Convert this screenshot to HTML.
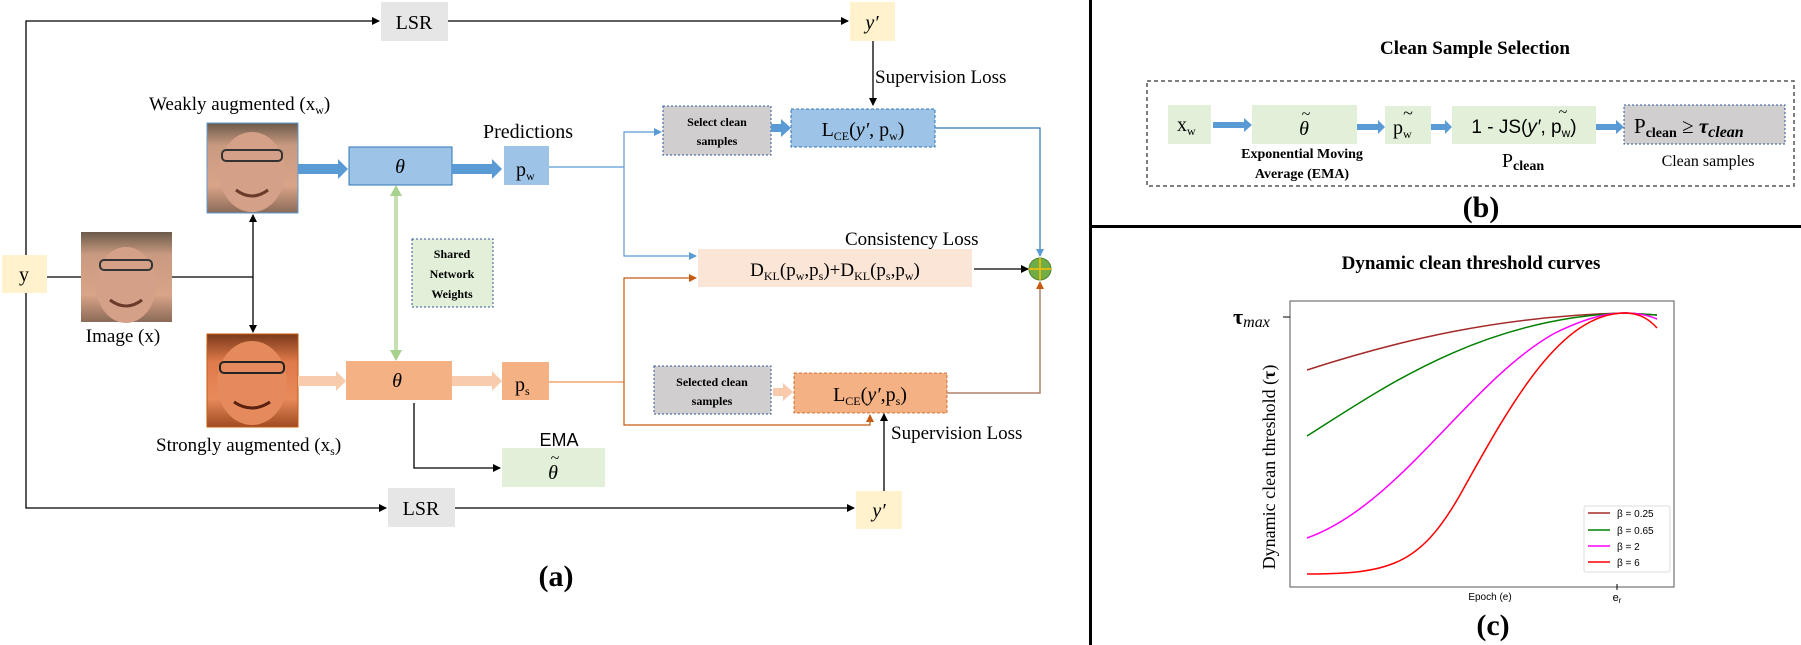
<!DOCTYPE html>
<html><head><meta charset="utf-8"><style>
html,body{margin:0;padding:0;background:#fff}
svg{display:block}
text{font-family:"Liberation Serif",serif;fill:#000}
.s{font-family:"Liberation Sans",sans-serif}
</style></head><body>
<svg width="1801" height="645" viewBox="0 0 1801 645" xmlns="http://www.w3.org/2000/svg">
<defs>
<marker id="ak" markerWidth="8" markerHeight="8" refX="7" refY="4" orient="auto" markerUnits="userSpaceOnUse"><path d="M0,0 L8,4 L0,8 z" fill="#000"/></marker>
<marker id="ab" markerWidth="8" markerHeight="8" refX="7" refY="4" orient="auto" markerUnits="userSpaceOnUse"><path d="M0,0 L8,4 L0,8 z" fill="#5b9bd5"/></marker>
<marker id="ao" markerWidth="8" markerHeight="8" refX="7" refY="4" orient="auto" markerUnits="userSpaceOnUse"><path d="M0,0 L8,4 L0,8 z" fill="#c55a11"/></marker>
<linearGradient id="skin" x1="0" y1="0" x2="0" y2="1"><stop offset="0" stop-color="#6b5a4a"/><stop offset="0.25" stop-color="#c99a80"/><stop offset="0.7" stop-color="#d9a488"/><stop offset="1" stop-color="#8a6a58"/></linearGradient>
<linearGradient id="skin2" x1="0" y1="0" x2="0" y2="1"><stop offset="0" stop-color="#7a3a1a"/><stop offset="0.3" stop-color="#e07a4a"/><stop offset="0.7" stop-color="#e88a5a"/><stop offset="1" stop-color="#a04a22"/></linearGradient>
</defs>

<rect x="1089" y="0" width="3" height="645" fill="#000"/>
<rect x="1089" y="225" width="712" height="3" fill="#000"/>

<!-- ===== (a) ===== -->
<polyline points="26,255 26,21 379,21" fill="none" stroke="#000" stroke-width="1.3" marker-end="url(#ak)"/>
<rect x="381" y="2" width="67" height="39" fill="#e7e6e6"/>
<text x="414" y="29" font-size="20" text-anchor="middle">LSR</text>
<line x1="448" y1="21" x2="848" y2="21" stroke="#000" stroke-width="1.3" marker-end="url(#ak)"/>
<rect x="850" y="2" width="45" height="39" fill="#fff2cc"/>
<text x="872" y="29" font-size="20" font-style="italic" text-anchor="middle">y′</text>
<line x1="873" y1="41" x2="873" y2="105" stroke="#000" stroke-width="1.3" marker-end="url(#ak)"/>
<text x="875" y="83" font-size="19">Supervision Loss</text>

<polyline points="26,293 26,508 386,508" fill="none" stroke="#000" stroke-width="1.3" marker-end="url(#ak)"/>
<rect x="388" y="488" width="67" height="39" fill="#e7e6e6"/>
<text x="421" y="515" font-size="20" text-anchor="middle">LSR</text>
<line x1="455" y1="508" x2="854" y2="508" stroke="#000" stroke-width="1.3" marker-end="url(#ak)"/>
<rect x="856" y="491" width="46" height="38" fill="#fff2cc"/>
<text x="879" y="517" font-size="20" font-style="italic" text-anchor="middle">y′</text>
<line x1="884" y1="491" x2="884" y2="414" stroke="#000" stroke-width="1.3" marker-end="url(#ak)"/>
<text x="891" y="439" font-size="19">Supervision Loss</text>

<rect x="2" y="255" width="45" height="38" fill="#fff2cc"/>
<text x="24" y="281" font-size="20" text-anchor="middle">y</text>
<line x1="47" y1="277" x2="81" y2="277" stroke="#000" stroke-width="1.3"/>
<rect x="81" y="232" width="91" height="90" fill="url(#skin)"/>
<ellipse cx="126" cy="285" rx="30" ry="38" fill="#d4a088"/>
<rect x="100" y="260" width="52" height="10" rx="4" fill="none" stroke="#333" stroke-width="2"/>
<path d="M110,300 Q126,312 142,300" stroke="#6a3a2a" stroke-width="3" fill="none"/>
<text x="123" y="342" font-size="19" text-anchor="middle">Image (x)</text>
<line x1="172" y1="277" x2="253" y2="277" stroke="#000" stroke-width="1.3"/>
<line x1="253" y1="277" x2="253" y2="215" stroke="#000" stroke-width="1.3" marker-end="url(#ak)"/>
<line x1="253" y1="277" x2="253" y2="332" stroke="#000" stroke-width="1.3" marker-end="url(#ak)"/>

<text x="149" y="110" font-size="19">Weakly augmented (x<tspan font-size="12" dy="4">w</tspan><tspan dy="-4">)</tspan></text>
<rect x="207" y="123" width="91" height="90" fill="url(#skin)" stroke="#5b9bd5" stroke-width="1"/>
<ellipse cx="252" cy="172" rx="33" ry="40" fill="#d4a088"/>
<rect x="222" y="150" width="60" height="11" rx="4" fill="none" stroke="#333" stroke-width="2"/>
<path d="M236,190 Q252,202 268,190" stroke="#6a3a2a" stroke-width="3" fill="none"/>
<path d="M298,164 L338,164 L338,159 L348,169 L338,179 L338,174 L298,174 z" fill="#5b9bd5"/>
<rect x="349" y="147" width="103" height="38" fill="#9dc3e6" stroke="#2e75b6" stroke-width="1"/>
<text x="400" y="173" font-size="20" font-style="italic" text-anchor="middle">θ</text>
<path d="M452,164 L492,164 L492,159 L502,169 L492,179 L492,174 L452,174 z" fill="#5b9bd5"/>
<rect x="504" y="146" width="45" height="39" fill="#9dc3e6"/>
<text x="516" y="176" font-size="20">p<tspan font-size="12" dy="4">w</tspan></text>
<text x="483" y="138" font-size="20">Predictions</text>
<polyline points="549,167 624,167 624,132 661,132" fill="none" stroke="#5b9bd5" stroke-width="1.2" marker-end="url(#ab)"/>
<polyline points="624,167 624,256 696,256" fill="none" stroke="#5b9bd5" stroke-width="1.2" marker-end="url(#ab)"/>
<rect x="663" y="106" width="108" height="49" fill="#d0cece" stroke="#2f5597" stroke-width="1" stroke-dasharray="2,2"/>
<text x="717" y="126" font-size="12" font-weight="bold" text-anchor="middle">Select clean</text>
<text x="717" y="145" font-size="12" font-weight="bold" text-anchor="middle">samples</text>
<path d="M771,124 L781,124 L781,119 L791,128 L781,137 L781,132 L771,132 z" fill="#5b9bd5"/>
<rect x="791" y="109" width="144" height="38" fill="#9dc3e6" stroke="#2e75b6" stroke-width="1" stroke-dasharray="3,2"/>
<text x="863" y="136" font-size="20" text-anchor="middle">L<tspan font-size="12" dy="4">CE</tspan><tspan dy="-4">(</tspan><tspan font-style="italic">y′</tspan>, p<tspan font-size="12" dy="4">w</tspan><tspan dy="-4">)</tspan></text>
<polyline points="935,128 1040,128 1040,256" fill="none" stroke="#2e75b6" stroke-width="1.2" marker-end="url(#ab)"/>

<line x1="396" y1="188" x2="396" y2="358" stroke="#c5e0b4" stroke-width="4"/>
<path d="M396,185 L390,196 L402,196 z" fill="#a9d18e"/>
<path d="M396,361 L390,350 L402,350 z" fill="#a9d18e"/>
<rect x="412" y="239" width="81" height="68" fill="#e2f0d9" stroke="#2f5597" stroke-width="1" stroke-dasharray="2,2"/>
<text x="452" y="258" font-size="12" font-weight="bold" text-anchor="middle">Shared</text>
<text x="452" y="278" font-size="12" font-weight="bold" text-anchor="middle">Network</text>
<text x="452" y="298" font-size="12" font-weight="bold" text-anchor="middle">Weights</text>

<text x="845" y="245" font-size="19">Consistency Loss</text>
<rect x="698" y="249" width="274" height="38" fill="#fbe5d6"/>
<text x="835" y="276" font-size="19" text-anchor="middle">D<tspan font-size="12" dy="4">KL</tspan><tspan dy="-4">(p</tspan><tspan font-size="12" dy="4">w</tspan><tspan dy="-4">,p</tspan><tspan font-size="12" dy="4">s</tspan><tspan dy="-4">)+D</tspan><tspan font-size="12" dy="4">KL</tspan><tspan dy="-4">(p</tspan><tspan font-size="12" dy="4">s</tspan><tspan dy="-4">,p</tspan><tspan font-size="12" dy="4">w</tspan><tspan dy="-4">)</tspan></text>
<line x1="974" y1="269" x2="1028" y2="269" stroke="#000" stroke-width="1.3" marker-end="url(#ak)"/>
<circle cx="1040" cy="269" r="11" fill="#70ad47" stroke="#548235"/>
<line x1="1029" y1="269" x2="1051" y2="269" stroke="#ffc000" stroke-width="1.5"/>
<line x1="1040" y1="258" x2="1040" y2="280" stroke="#ffc000" stroke-width="1.5"/>

<rect x="207" y="334" width="91" height="93" fill="url(#skin2)" stroke="#c55a11" stroke-width="1"/>
<ellipse cx="252" cy="383" rx="35" ry="42" fill="#e48a5c"/>
<rect x="220" y="362" width="64" height="11" rx="4" fill="none" stroke="#222" stroke-width="2"/>
<path d="M234,402 Q252,414 270,402" stroke="#5a2010" stroke-width="3" fill="none"/>
<text x="156" y="451" font-size="19">Strongly augmented (x<tspan font-size="12" dy="4">s</tspan><tspan dy="-4">)</tspan></text>
<path d="M298,376 L336,376 L336,371 L346,381 L336,391 L336,386 L298,386 z" fill="#f8cbad"/>
<rect x="346" y="361" width="106" height="39" fill="#f4b183"/>
<text x="397" y="387" font-size="20" font-style="italic" text-anchor="middle">θ</text>
<path d="M452,376 L492,376 L492,371 L502,381 L492,391 L492,386 L452,386 z" fill="#f8cbad"/>
<rect x="502" y="362" width="47" height="38" fill="#f4b183"/>
<text x="515" y="391" font-size="20">p<tspan font-size="12" dy="4">s</tspan></text>
<line x1="549" y1="382" x2="624" y2="382" stroke="#f4b183" stroke-width="1.8"/>
<polyline points="624,382 624,278 696,278" fill="none" stroke="#c55a11" stroke-width="1.2" marker-end="url(#ao)"/>
<polyline points="624,382 624,425 870,425 870,415" fill="none" stroke="#c55a11" stroke-width="1.2" marker-end="url(#ao)"/>
<rect x="654" y="366" width="117" height="48" fill="#d0cece" stroke="#2f5597" stroke-width="1" stroke-dasharray="2,2"/>
<text x="712" y="386" font-size="12" font-weight="bold" text-anchor="middle">Selected clean</text>
<text x="712" y="405" font-size="12" font-weight="bold" text-anchor="middle">samples</text>
<path d="M773,388 L783,388 L783,383 L793,392 L783,401 L783,396 L773,396 z" fill="#f8cbad"/>
<rect x="794" y="373" width="153" height="40" fill="#f4b183" stroke="#c55a11" stroke-width="0.8" stroke-dasharray="3,2"/>
<text x="870" y="401" font-size="20" text-anchor="middle">L<tspan font-size="12" dy="4">CE</tspan><tspan dy="-4">(</tspan><tspan font-style="italic">y′</tspan>,p<tspan font-size="12" dy="4">s</tspan><tspan dy="-4">)</tspan></text>
<polyline points="947,393 1040,393 1040,282" fill="none" stroke="#b08068" stroke-width="1.5" marker-end="url(#ao)"/>

<polyline points="414,403 414,468 500,468" fill="none" stroke="#000" stroke-width="1.3" marker-end="url(#ak)"/>
<text x="559" y="446" font-size="18" class="s" text-anchor="middle">EMA</text>
<rect x="502" y="448" width="103" height="39" fill="#e2f0d9"/>
<text x="553" y="479" font-size="20" font-style="italic" text-anchor="middle">θ</text>
<text x="555" y="463" font-size="16" text-anchor="middle">~</text>

<text x="556" y="586" font-size="30" font-weight="bold" text-anchor="middle">(a)</text>

<!-- ===== (b) ===== -->
<text x="1475" y="54" font-size="19" font-weight="bold" text-anchor="middle">Clean Sample Selection</text>
<rect x="1147" y="81" width="647" height="105" fill="none" stroke="#555" stroke-width="1.5" stroke-dasharray="4,3"/>
<rect x="1168" y="105" width="43" height="39" fill="#e2f0d9"/>
<text x="1177" y="131" font-size="20">x<tspan font-size="12" dy="4">w</tspan></text>
<path d="M1213,122 L1244,122 L1244,118 L1252,125 L1244,132 L1244,128 L1213,128 z" fill="#5b9bd5"/>
<rect x="1252" y="105" width="105" height="39" fill="#e2f0d9"/>
<text x="1304" y="135" font-size="20" font-style="italic" text-anchor="middle">θ</text>
<text x="1306" y="119" font-size="16" text-anchor="middle">~</text>
<text x="1302" y="158" font-size="14" font-weight="bold" text-anchor="middle">Exponential  Moving</text>
<text x="1302" y="178" font-size="14" font-weight="bold" text-anchor="middle">Average (EMA)</text>
<path d="M1357,124 L1378,124 L1378,120 L1385,127 L1378,134 L1378,130 L1357,130 z" fill="#5b9bd5"/>
<rect x="1385" y="106" width="46" height="38" fill="#e2f0d9"/>
<text x="1393" y="134" font-size="20">p<tspan font-size="12" dy="4">w</tspan></text>
<text x="1408" y="119" font-size="18" text-anchor="middle">~</text>
<path d="M1431,124 L1445,124 L1445,120 L1452,127 L1445,134 L1445,130 L1431,130 z" fill="#5b9bd5"/>
<rect x="1452" y="106" width="144" height="38" fill="#e2f0d9"/>
<text x="1524" y="133" font-size="19" class="s" text-anchor="middle">1 - JS(<tspan font-style="italic">y′</tspan>, p<tspan font-size="12" dy="4">w</tspan><tspan dy="-4">)</tspan></text>
<text x="1563" y="117" font-size="16" text-anchor="middle">~</text>
<path d="M1596,124 L1616,124 L1616,120 L1624,127 L1616,134 L1616,130 L1596,130 z" fill="#5b9bd5"/>
<rect x="1624" y="105" width="161" height="39" fill="#d0cece" stroke="#2f5597" stroke-width="1" stroke-dasharray="2,2"/>
<text x="1634" y="133" font-size="21">P<tspan font-size="14" font-weight="bold" dy="4">clean</tspan><tspan dy="-4"> ≥ </tspan><tspan font-weight="bold" font-style="italic">τ</tspan><tspan font-size="16" font-weight="bold" font-style="italic" dy="4">clean</tspan></text>
<text x="1523" y="167" font-size="20" text-anchor="middle">P<tspan font-size="14" font-weight="bold" dy="3">clean</tspan></text>
<text x="1708" y="166" font-size="16" text-anchor="middle">Clean samples</text>
<text x="1481" y="217" font-size="30" font-weight="bold" text-anchor="middle">(b)</text>

<!-- ===== (c) ===== -->
<text x="1471" y="269" font-size="19" font-weight="bold" text-anchor="middle">Dynamic clean threshold curves</text>
<rect x="1290" y="301" width="384" height="286" fill="#fff" stroke="#555" stroke-width="1"/>
<text x="1233" y="324" font-size="22" font-weight="bold">τ<tspan font-size="16" font-style="italic" font-weight="normal" dy="3">max</tspan></text>
<line x1="1283" y1="317" x2="1290" y2="317" stroke="#000"/>
<text transform="translate(1275,467) rotate(-90)" font-size="18" text-anchor="middle">Dynamic  clean threshold (<tspan font-weight="bold">τ</tspan>)</text>
<path d="M1307,370 C1400,340 1500,316 1625,313 L1657,315" fill="none" stroke="#a52a2a" stroke-width="1.5"/>
<path d="M1307,436 C1380,390 1480,318 1625,313 L1657,315" fill="none" stroke="#008000" stroke-width="1.5"/>
<path d="M1307,538 C1400,505 1470,380 1555,333 C1590,316 1610,313 1625,313 C1640,313 1650,316 1657,319" fill="none" stroke="#ff00ff" stroke-width="1.5"/>
<path d="M1307,574 C1390,574 1420,565 1460,495 C1510,405 1560,313 1625,313 C1640,313 1650,320 1657,328" fill="none" stroke="#ff0000" stroke-width="1.5"/>
<rect x="1584" y="506" width="86" height="66" fill="#fff" stroke="#ddd" stroke-width="1" rx="2"/>
<g font-size="10" class="s">
<line x1="1588" y1="513" x2="1610" y2="513" stroke="#a52a2a" stroke-width="1.5"/><text x="1617" y="517" class="s">β = 0.25</text>
<line x1="1588" y1="530" x2="1610" y2="530" stroke="#008000" stroke-width="1.5"/><text x="1617" y="534" class="s">β = 0.65</text>
<line x1="1588" y1="546" x2="1610" y2="546" stroke="#ff00ff" stroke-width="1.5"/><text x="1617" y="550" class="s">β = 2</text>
<line x1="1588" y1="562" x2="1610" y2="562" stroke="#ff0000" stroke-width="1.5"/><text x="1617" y="566" class="s">β = 6</text>
</g>
<line x1="1617" y1="584" x2="1617" y2="590" stroke="#000"/>
<text x="1490" y="600" font-size="10" class="s" text-anchor="middle">Epoch (e)</text>
<text x="1617" y="601" font-size="11" class="s" text-anchor="middle">e<tspan font-size="8" dy="2">r</tspan></text>
<text x="1493" y="635" font-size="30" font-weight="bold" text-anchor="middle">(c)</text>
</svg>
</body></html>
